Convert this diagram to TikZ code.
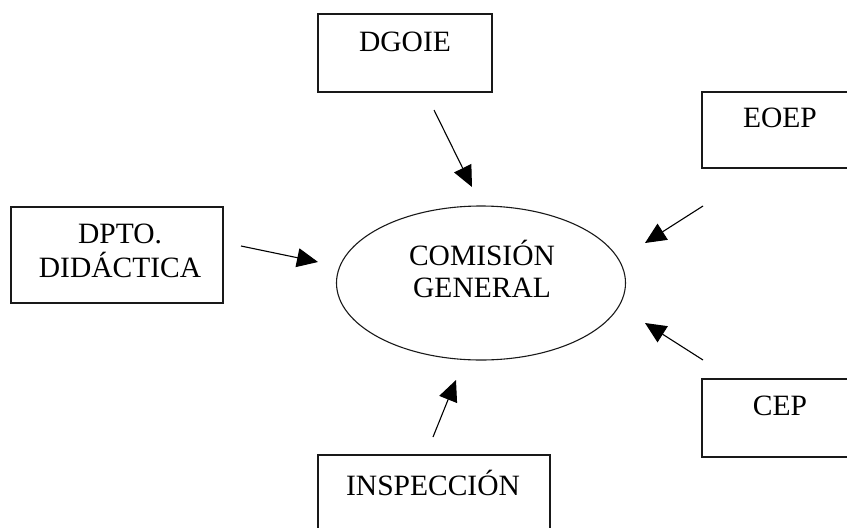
\documentclass[tikz,border=0pt]{standalone}
\usepackage{fontspec}
\setmainfont{Liberation Serif}
\usetikzlibrary{arrows.meta,shapes.geometric}
\begin{document}
\begin{tikzpicture}[x=1pt,y=-1pt,
  box/.style={draw=black!90,line width=1.1pt,rectangle,inner sep=0pt},
  lbl/.style={inner sep=0pt,align=center,font=\fontsize{29.5}{34.5}\selectfont},
  feed/.style={draw=black,line width=1.1pt,-{Triangle[length=21pt,width=19pt]}}]
  \useasboundingbox (0,0) rectangle (847,528);
  \clip (0,0) rectangle (847,528);
  % central committee
  \node[draw=black!90,line width=1.1pt,ellipse,minimum width=289pt,minimum height=154pt,inner sep=0pt] (com) at (481,283) {};
  \node[lbl] (com-t) at (482,269) {COMISIÓN\\[-3pt]GENERAL};
  % surrounding bodies
  \node[box,minimum width=174pt,minimum height=78pt] (dgoie) at (405,53) {};
  \node[lbl] (dgoie-t) at (405,42) {DGOIE};
  \node[box,minimum width=212pt,minimum height=96pt] (dpto) at (117,255) {};
  \node[lbl] (dpto-t) at (120,251) {DPTO.\\DIDÁCTICA};
  \node[box,minimum width=160pt,minimum height=76pt] (eoep) at (782,130) {};
  \node[lbl] (eoep-t) at (780,118) {EOEP};
  \node[box,minimum width=160pt,minimum height=78pt] (cep) at (782,418) {};
  \node[lbl] (cep-t) at (780,406) {CEP};
  \node[box,minimum width=232pt,minimum height=90pt] (insp) at (434,500) {};
  \node[lbl] (insp-t) at (433,483) {INSPECCIÓN};
  % arrow ends
  \coordinate (a-dgoie) at (434,110);  \coordinate (t-dgoie) at (472,187);
  \coordinate (a-dpto)  at (241,246);  \coordinate (t-dpto)  at (318,262);
  \coordinate (a-eoep)  at (703,206);  \coordinate (t-eoep)  at (645,243);
  \coordinate (a-cep)   at (703,360);  \coordinate (t-cep)   at (645,323);
  \coordinate (a-insp)  at (433,437);  \coordinate (t-insp)  at (456,380);
  \draw[feed] (a-dgoie) -- (t-dgoie);
  \draw[feed] (a-dpto) -- (t-dpto);
  \draw[feed] (a-eoep) -- (t-eoep);
  \draw[feed] (a-cep) -- (t-cep);
  \draw[feed] (a-insp) -- (t-insp);
\end{tikzpicture}
\end{document}
